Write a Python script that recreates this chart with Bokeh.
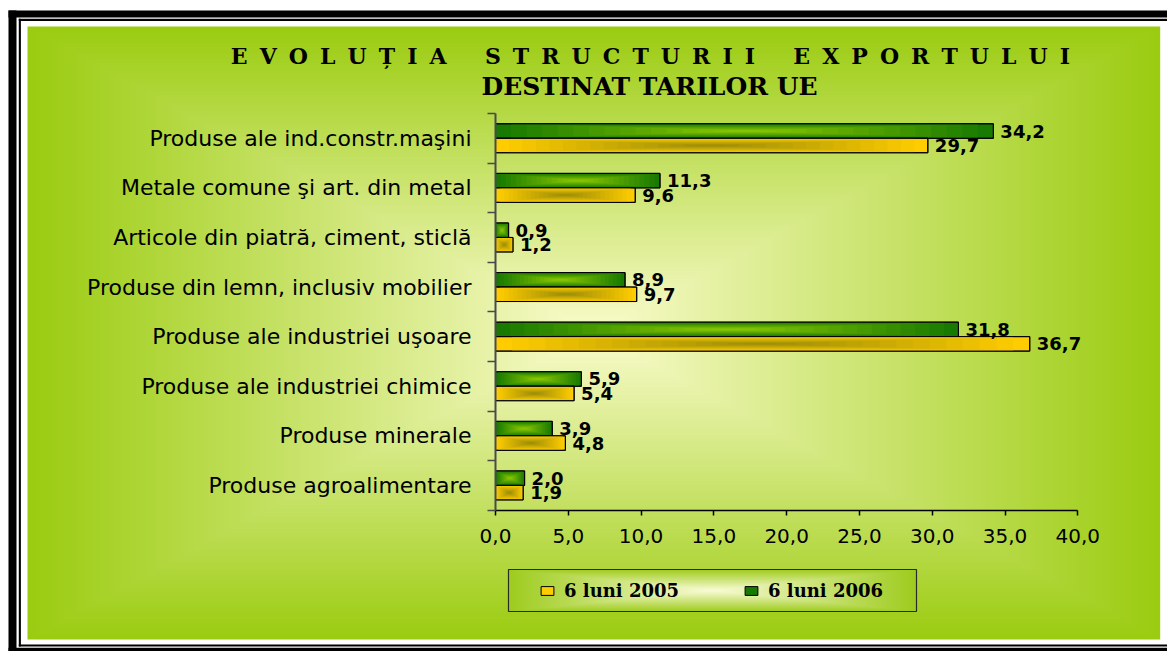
import numpy as np
from bokeh.plotting import figure
from bokeh.models import (Range1d, LinearAxis, FixedTicker, CustomJSTickFormatter,
                          Label, Legend, LegendItem, ColumnDataSource)
from bokeh.core.properties import value
from bokeh.embed import file_html
from bokeh.resources import INLINE

# ---------------- data ----------------
categories = [
    "Produse ale ind.constr.maşini",
    "Metale comune şi art. din metal",
    "Articole din piatră, ciment, sticlă",
    "Produse din lemn, inclusiv mobilier",
    "Produse ale industriei uşoare",
    "Produse ale industriei chimice",
    "Produse minerale",
    "Produse agroalimentare",
]
values_2005 = [29.7, 9.6, 1.2, 9.7, 36.7, 5.4, 4.8, 1.9]
values_2006 = [34.2, 11.3, 0.9, 8.9, 31.8, 5.9, 3.9, 2.0]
series_names = ["6 luni 2005", "6 luni 2006"]
x_ticks = [0, 5, 10, 15, 20, 25, 30, 35, 40]
title_words = ["EVOLUȚIA", "STRUCTURII", "EXPORTULUI"]
title_line2 = "DESTINAT TARILOR UE"

# ---------------- layout helpers (page pixels -> data) ----------------
W, H = 1167, 651
FIG_L, FIG_T = 0, 0
X0_PX, XU = 495.0, 14.5575     # page x of value 0, px per unit
Y0_PX, YU = 509.7, 49.59       # page y of category boundary 0, px per category


def px2x(px):
    return (px - X0_PX) / XU


def px2y(py):
    return (Y0_PX - py) / YU


n = len(categories)
centers = [n - 0.5 - i for i in range(n)]
BAR_H = 0.292

p = figure(width=W, height=H, output_backend="svg", toolbar_location=None,
           x_range=Range1d(px2x(FIG_L), px2x(FIG_L + W)),
           y_range=Range1d(px2y(FIG_T + H), px2y(FIG_T)),
           x_axis_type=None, y_axis_type=None, min_border=0,
           background_fill_color="white", border_fill_color="white",
           outline_line_color=None)


def rect_gradient(w, h, c_center, c_edge, gamma=1.0):
    xs = np.abs((np.arange(w) + 0.5) / w - 0.5) * 2
    ys = np.abs((np.arange(h) + 0.5) / h - 0.5) * 2
    t = np.maximum(xs[None, :], ys[:, None]) ** gamma
    img = np.empty((h, w), dtype=np.uint32)
    view = img.view(dtype=np.uint8).reshape((h, w, 4))
    cc = np.array(c_center, dtype=float)
    ce = np.array(c_edge, dtype=float)
    for k in range(3):
        view[:, :, k] = np.clip(cc[k] + (ce[k] - cc[k]) * t, 0, 255).astype(np.uint8)
    view[:, :, 3] = 255
    return img


def box(l, r, t, b, color="black"):
    p.quad(left=px2x(l), right=px2x(r), top=px2y(t), bottom=px2y(b),
           fill_color=color, line_color=None)


# frame lines (black)
box(8, 1167, 10, 17)        # outer top
box(8, 16, 10, 651)         # outer left
box(8, 1167, 647.3, 651)    # outer bottom
box(18.3, 1167, 18.3, 20.6)  # inner top
box(18.3, 20.4, 18.3, 646)   # inner left
box(18.3, 1167, 644, 646)    # inner bottom

# main gradient background
bg = rect_gradient(566, 307, (250, 252, 205), (155, 204, 16))
p.image_rgba(image=[bg], x=px2x(27), y=px2y(639),
             dw=px2x(1159.7) - px2x(27), dh=px2y(26) - px2y(639))

# legend box gradient
lg = rect_gradient(408, 42, (250, 252, 215), (158, 204, 30))
p.image_rgba(image=[lg], x=px2x(508), y=px2y(611),
             dw=px2x(916) - px2x(508), dh=px2y(569) - px2y(611))
p.quad(left=px2x(508), right=px2x(916), top=px2y(569), bottom=px2y(611),
       fill_color=None, line_color="#2a2a2a", line_width=1.2)


# ---------------- bars ----------------
def lerp(c1, c2, t):
    return "#%02x%02x%02x" % tuple(int(round(a + (b - a) * t)) for a, b in zip(c1, c2))


def bar_layers(vals, ys, edge, center, nl=16):
    L, R, Y, Hh, C = [], [], [], [], []
    for k in range(1, nl):
        s = 1 - k / nl
        col = lerp(center, edge, s)
        for v, y in zip(vals, ys):
            L.append(v * (1 - s) / 2)
            R.append(v * (1 + s) / 2)
            Y.append(y)
            Hh.append(BAR_H * s)
            C.append(col)
    return ColumnDataSource(dict(left=L, right=R, y=Y, height=Hh, color=C))


y2006 = [c + BAR_H / 2 for c in centers]
y2005 = [c - BAR_H / 2 for c in centers]

G_EDGE, G_CENTER = (24, 122, 0), (146, 204, 0)
O_EDGE, O_CENTER = (255, 204, 0), (150, 138, 10)

r2006 = p.hbar(y=y2006, left=0, right=values_2006, height=BAR_H,
               fill_color=lerp(G_EDGE, G_CENTER, 0.0), line_color="black", line_width=1)
p.hbar(y="y", left="left", right="right", height="height", fill_color="color",
       line_color=None, source=bar_layers(values_2006, y2006, G_EDGE, G_CENTER))
p.hbar(y=y2006, left=0, right=values_2006, height=BAR_H,
       fill_color=None, line_color="black", line_width=1)

r2005 = p.hbar(y=y2005, left=0, right=values_2005, height=BAR_H,
               fill_color=lerp(O_EDGE, O_CENTER, 0.0), line_color="black", line_width=1)
p.hbar(y="y", left="left", right="right", height="height", fill_color="color",
       line_color=None, source=bar_layers(values_2005, y2005, O_EDGE, O_CENTER))
p.hbar(y=y2005, left=0, right=values_2005, height=BAR_H,
       fill_color=None, line_color="black", line_width=1)

# data labels
fmt = lambda v: ("%.1f" % v).replace(".", ",")
p.text(x=values_2006, y=y2006, text=[fmt(v) for v in values_2006], x_offset=7,
       text_baseline="middle", text_align="left", text_font=value("DejaVu Sans"),
       text_font_style="bold", text_font_size="18px", text_color="black")
p.text(x=values_2005, y=y2005, text=[fmt(v) for v in values_2005], x_offset=7,
       text_baseline="middle", text_align="left", text_font=value("DejaVu Sans"),
       text_font_style="bold", text_font_size="18px", text_color="black")

# ---------------- axes ----------------
xaxis = LinearAxis(fixed_location=0, bounds=(0, 40),
                   ticker=FixedTicker(ticks=x_ticks),
                   formatter=CustomJSTickFormatter(code="return tick.toFixed(1).replace('.', ',');"),
                   major_tick_out=5, major_tick_in=0, minor_tick_out=0, minor_tick_in=0,
                   axis_line_color="black", axis_line_width=1.5,
                   major_tick_line_color="black", major_tick_line_width=1.5,
                   major_label_text_font="DejaVu Sans", major_label_text_font_size="20px",
                   major_label_text_color="black", major_label_standoff=14)
p.add_layout(xaxis, "below")

yaxis_ticks = LinearAxis(fixed_location=0, bounds=(0, n),
                         ticker=FixedTicker(ticks=list(range(n + 1))),
                         formatter=CustomJSTickFormatter(code="return '';"),
                         major_tick_out=8, major_tick_in=0, minor_tick_out=0, minor_tick_in=0,
                         axis_line_color="#4a4a4a", axis_line_width=2,
                         major_tick_line_color="#4a4a4a", major_tick_line_width=1.5)
p.add_layout(yaxis_ticks, "left")

yaxis_labels = LinearAxis(fixed_location=0, bounds=(0, n),
                          ticker=FixedTicker(ticks=centers),
                          formatter=CustomJSTickFormatter(args=dict(cats=categories),
                                                          code="return cats[Math.round(cats.length - 0.5 - tick)];"),
                          major_tick_out=0, major_tick_in=0, minor_tick_out=0, minor_tick_in=0,
                          axis_line_color=None,
                          major_label_text_font="DejaVu Sans", major_label_text_font_size="22px",
                          major_label_text_color="black", major_label_standoff=24)
p.add_layout(yaxis_labels, "left")

# ---------------- titles ----------------
sp = "\u00a0\u2009"
line1 = ("\u00a0" * 5).join(sp.join(list(w)) for w in title_words)
p.add_layout(Label(x=px2x(650), y=px2y(55), text=line1, text_align="center",
                   text_baseline="alphabetic", text_font="DejaVu Serif",
                   text_font_style="bold", text_font_size="22px", text_color="black"))
p.add_layout(Label(x=px2x(649), y=px2y(86), text=title_line2, text_align="center",
                   text_baseline="alphabetic", text_font="DejaVu Serif",
                   text_font_style="bold", text_font_size="25px", text_color="black"))

# ---------------- legend ----------------
legend = Legend(items=[LegendItem(label=series_names[0], renderers=[r2005]),
                       LegendItem(label=series_names[1], renderers=[r2006])],
                orientation="horizontal", location=(539 - FIG_L, (FIG_T + H) - 601.5),
                padding=0, margin=0, spacing=57, glyph_width=16, glyph_height=11,
                label_standoff=9, label_width=122, label_height=22,
                background_fill_alpha=0, border_line_alpha=0,
                label_text_font="DejaVu Serif", label_text_font_style="bold",
                label_text_font_size="18px", label_text_color="black")
p.add_layout(legend)

open("out.html", "w").write(file_html(p, INLINE))
